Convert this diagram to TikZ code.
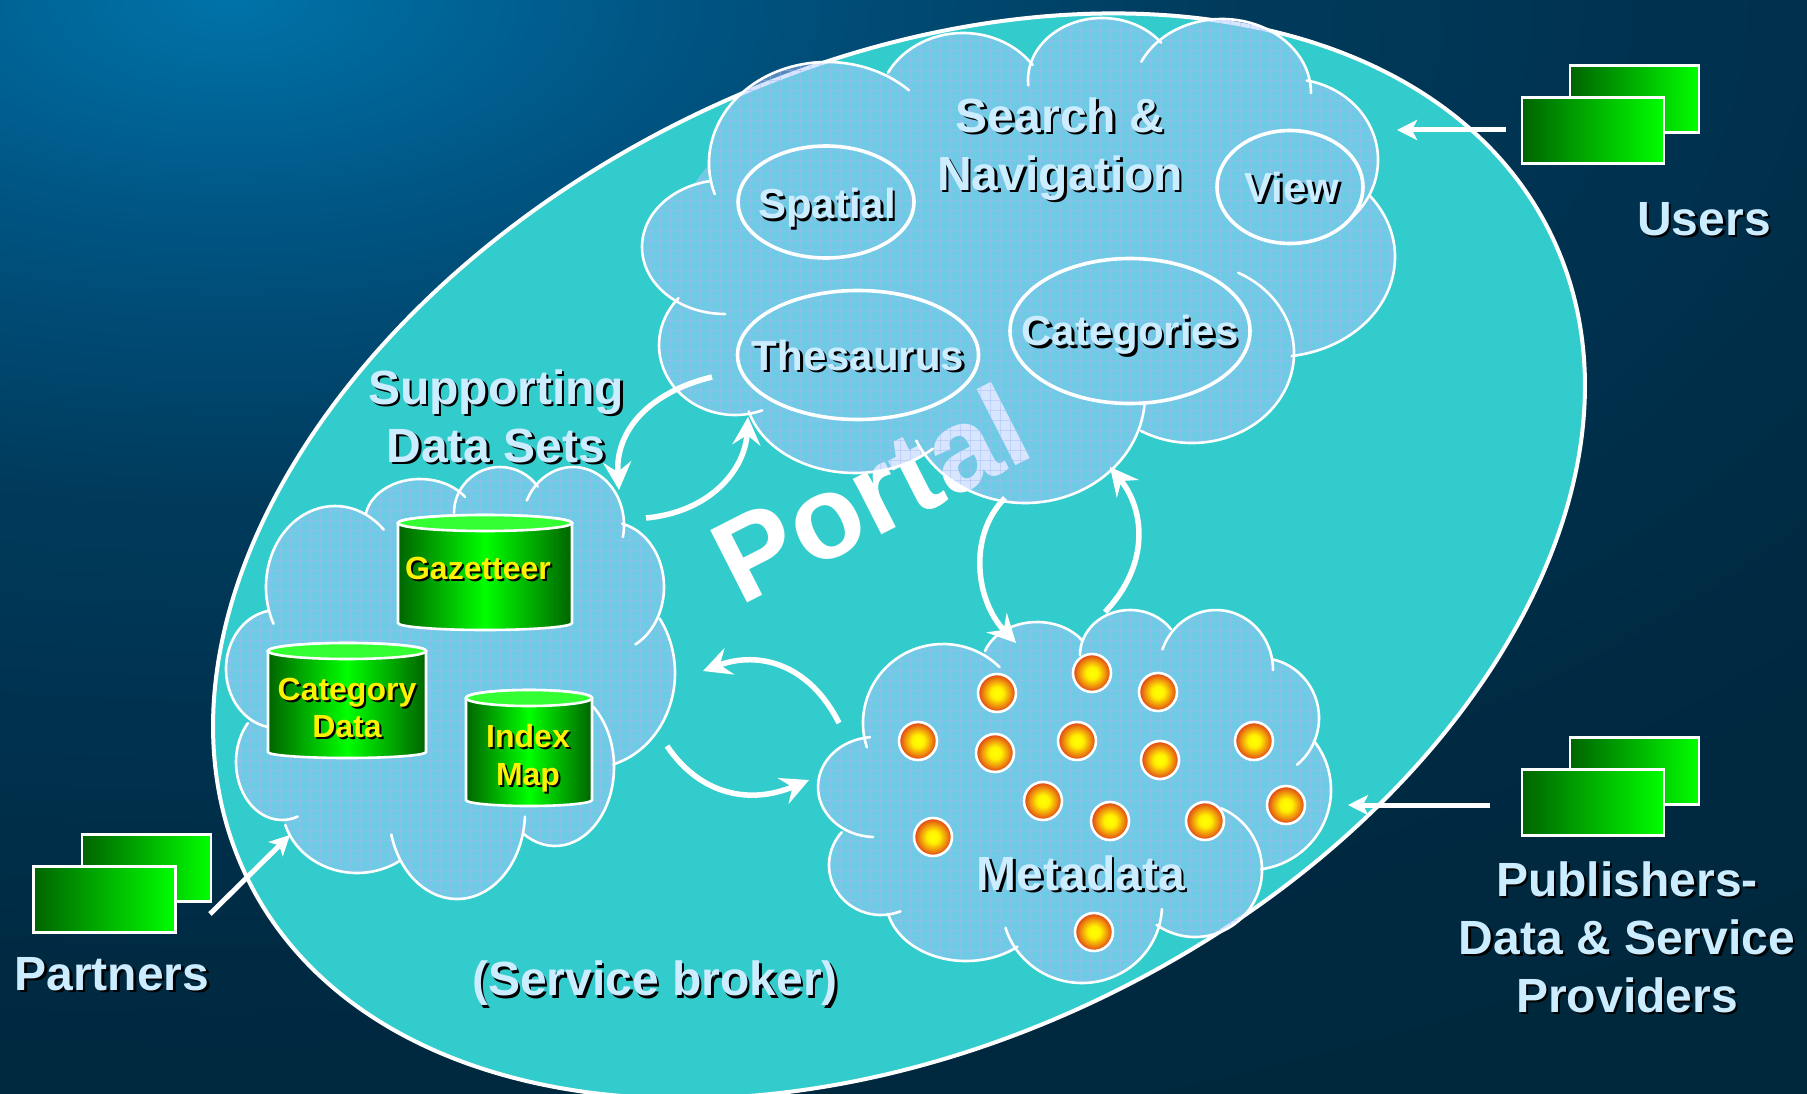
\documentclass[tikz,border=0pt]{standalone}
\usepackage{fontspec}
\setmainfont{Liberation Sans}
\usetikzlibrary{arrows.meta,shapes.geometric,calc}
\definecolor{teal}{RGB}{51,204,204}
\definecolor{cloudc}{RGB}{173,202,255}
\definecolor{gridc}{RGB}{165,185,245}
\definecolor{lblue}{RGB}{204,236,255}
\definecolor{dkgreen}{RGB}{0,100,0}
\definecolor{brgreen}{RGB}{0,255,0}
\definecolor{topgreen}{RGB}{51,255,51}
\pgfdeclareradialshading{bgshade}{\pgfpoint{0bp}{0bp}}{%
 rgb(0bp)=(0,0.45,0.66);
 rgb(3.8bp)=(0,0.33,0.51);
 rgb(8.3bp)=(0,0.23,0.36);
 rgb(12bp)=(0,0.195,0.31);
 rgb(16bp)=(0,0.165,0.26);
 rgb(20bp)=(0,0.155,0.24);
 rgb(50bp)=(0,0.155,0.24)}
\pgfdeclareradialshading{dotshade}{\pgfpoint{0bp}{0bp}}{%
 rgb(0bp)=(1,1,0);
 rgb(8bp)=(1,0.95,0);
 rgb(17bp)=(0.94,0.58,0.05);
 rgb(25bp)=(0.87,0.24,0.08);
 rgb(50bp)=(0.87,0.24,0.08)}
\tikzset{
 cloudline/.style={draw=white,line width=2.6pt,line cap=round},
 innerell/.style={ellipse,draw=white,line width=3.6pt,inner sep=0pt,outer sep=0pt},
 lbl/.style={font=\bfseries\fontsize{48}{58}\selectfont,text=lblue,align=center,inner sep=0pt},
 slbl/.style={font=\bfseries\fontsize{42}{50}\selectfont,text=lblue,align=center,inner sep=0pt},
 dblbl/.style={font=\bfseries\fontsize{32}{37.5}\selectfont,text=yellow,align=center,inner sep=0pt},
 flow/.style={draw=white,line width=5.5pt,-{Stealth[length=28pt,width=28pt,inset=10pt]}},
 feed/.style={draw=white,line width=5pt,-{Stealth[length=20pt,width=20pt,inset=5pt]}},
 actor/.style={rectangle,draw=white,line width=2.4pt,inner sep=0pt,outer sep=0pt,left color=dkgreen,right color=brgreen},
 backactor/.style={actor,minimum width=129pt,minimum height=67pt},
 frontactor/.style={actor,minimum width=142pt,minimum height=66pt},
 dotnode/.style={circle,draw=white,line width=2.6pt,minimum size=38pt,inner sep=0pt,outer sep=0pt,shading=dotshade},
}
\newcommand\shadowlabel[5][2.6]{%
 \node[#2,text=black] at ([shift={(#1,#1)}]#4) {#5};
 \node[#2] (#3) at (#4) {#5};}
\newcommand\cloudbody[6]{%
 \coordinate (#1) at (#2,#3);
 \begin{scope}
  \clip (#2,#3) circle[x radius=#4,y radius=#5]
   \foreach \ca/\cb/\ra/\rb/\sa/\ea in {#6} { (\ca,\cb) circle[x radius=\ra,y radius=\rb] };
  \fill[cloudc,opacity=.485] (0,0) rectangle (1807,1094);
  \foreach \gx in {0,10,...,1800} \draw[gridc,line width=.6pt,opacity=.45] (\gx,0) -- (\gx,1094);
  \foreach \gy in {0,10,...,1090} \draw[gridc,line width=.6pt,opacity=.45] (0,\gy) -- (1807,\gy);
 \end{scope}
 \foreach \ca/\cb/\ra/\rb/\sa/\ea in {#6} {
  \draw[cloudline] ({\ca+\ra*cos(\sa)},{\cb+\rb*sin(\sa)}) arc[start angle=\sa,end angle=\ea,x radius=\ra,y radius=\rb];
 }}
% #1 left #2 right #3 top centre y #4 bottom corner y #5 top ry #6 bottom ry
\newcommand\barrel[6]{%
 \path[draw=white,line width=2.6pt,left color=dkgreen,right color=dkgreen,middle color=brgreen]
  (#1,#3) -- (#1,#4) arc[start angle=180,end angle=0,x radius={(#2-#1)/2},y radius=#6] -- (#2,#3)
  arc[start angle=0,end angle=-180,x radius={(#2-#1)/2},y radius=#5] -- cycle;
 \path[draw=white,line width=2.6pt,fill=topgreen] ({(#1+#2)/2},#3) circle[x radius={(#2-#1)/2},y radius=#5];}
\begin{document}
\begin{tikzpicture}[x=1pt,y=-1pt]
\useasboundingbox (0,0) rectangle (1807,1094);
\clip (0,0) rectangle (1807,1094);
\shade[shading=bgshade] (230,0) circle[x radius=3000,y radius=1500];
\node[ellipse,fill=teal,draw=white,line width=4pt,minimum width=1454pt,minimum height=972pt,inner sep=0pt,outer sep=0pt,rotate=26.5] (broker) at (899,556) {};
\node[font=\bfseries\fontsize{118}{118}\selectfont,text=white,rotate=27,inner sep=0pt] (portal) at (870,493) {Portal};

\cloudbody{searchcloud}{960}{260}{290}{190}{
 827/163/118/101/162/314,
 963/108/85/75/208/325,
 1102/80/74/62/175/323,
 1222/93/89/74/205/360,
 1290/160/88/81/281/411,
 1275/257/120/100/-38/82,
 1192/353/102/90/-63/120,
 1025/395/120/108/5/155,
 855/390/110/83/45/165,
 735/345/76/70/69/222,
 725/247/83/67/90/260}
\cloudbody{datacloud}{425}{670}{170}{140}{
 335/587/69/81/153/315,
 420/521/55/42/190/325,
 500/513/46/46/180/325,
 573/525/51/58/205/372,
 610/587/54/65/-77/62,
 590/673/85/95/-35/74,
 555/767/59/79/-50/122,
 457/812/68/87/3/165,
 357/805/75/68/55/163,
 282/762/46/58/70/222,
 277/669/51/59/100/260}
\cloudbody{metacloud}{1080}{790}{220}{130}{
 943/723/80/79/162/315,
 1037/665/55/43/199/325,
 1130/655/50/45/180/325,
 1216/670/57/60/200/360,
 1260/718/59/60/-77/51,
 1250/790/81/80/-38/82,
 1195/870/67/67/-67/125,
 1082/905/80/78/3/163,
 966/900/80/61/50/167,
 881/865/52/50/68/221,
 875/787/57/50/92/265}

% inner ellipses
\node[innerell,minimum width=176pt,minimum height=112pt] (spatial) at (826,202) {};
\node[innerell,minimum width=146pt,minimum height=113pt] (view) at (1290,187) {};
\node[innerell,minimum width=241pt,minimum height=129pt] (thesaurus) at (858,355) {};
\node[innerell,minimum width=240pt,minimum height=145pt] (categories) at (1130,331) {};
\shadowlabel{slbl}{spatialtext}{827,208}{Spatial}
\shadowlabel{slbl}{viewtext}{1292,187}{View}
\shadowlabel{slbl}{thesaurustext}{858,355}{Thesaurus}
\shadowlabel{slbl}{categoriestext}{1130,335}{Categories}

% barrels
\barrel{398}{572}{523}{623}{8}{7}
\barrel{268}{426}{651}{752}{8}{6}
\barrel{466}{592}{698}{800}{8}{6}
\shadowlabel[2]{dblbl}{gaz}{478,568}{Gazetteer}
\shadowlabel[2]{dblbl}{catdata}{347,708}{Category\\Data}
\shadowlabel[2]{dblbl}{indexmap}{528,758}{Index\\Map}

% dots
\foreach \dx/\dy [count=\di] in {997/693,1092/673,1158/692,918/741,995/753,1077/741,1160/760,1254/741,1043/801,1110/821,1205/821,1286/805,933/837,1094/932}
 \node[dotnode] (dot\di) at (\dx,\dy) {};

% labels
\shadowlabel{lbl}{searchtext}{1060,149}{Search \&\\Navigation}
\shadowlabel{lbl}{supporttext}{496,416}{Supporting\\Data Sets}
\shadowlabel{lbl}{metatext}{1081,873}{Metadata}
\shadowlabel{lbl}{brokertext}{655,983}{(Service broker)}
\shadowlabel{lbl}{userstext}{1704,219}{Users}
\shadowlabel{lbl}{partnerstext}{112,974}{Partners}
\shadowlabel{lbl}{pubtext}{1627,937}{Publishers-\\Data \& Service\\Providers}

% actors
\node[backactor] (usersback) at (1634.5,99) {};
\node[frontactor] (usersfront) at (1593,130.5) {};
\node[backactor] (pubback) at (1634.5,771) {};
\node[frontactor] (pubfront) at (1593,802.5) {};
\node[backactor] (partback) at (146.5,868) {};
\node[frontactor] (partfront) at (104.5,899.5) {};

% connector ends
\coordinate (ua) at (1506,130); \coordinate (ub) at (1397,130);
\coordinate (pa) at (1490,805); \coordinate (pb) at (1348,805);
\coordinate (ra) at (210,914); \coordinate (rb) at (290,835);
\draw[feed] (ua) -- (ub);
\draw[feed] (pa) -- (pb);
\draw[feed] (ra) -- (rb);
\coordinate (a1) at (712,377); \coordinate (a2) at (619,490);
\coordinate (b1) at (646,518); \coordinate (b2) at (748,417);
\coordinate (c1) at (1005,498); \coordinate (c2) at (1016,643);
\coordinate (d1) at (1105,612); \coordinate (d2) at (1110,467);
\coordinate (e1) at (839,723); \coordinate (e2) at (703,671);
\coordinate (f1) at (667,746); \coordinate (f2) at (809,780);
\draw[flow] (a1) .. controls (650,392) and (615,430) .. (a2);
\draw[flow] (b1) .. controls (710,512) and (745,470) .. (b2);
\draw[flow] (c1) .. controls (968,535) and (975,600) .. (c2);
\draw[flow] (d1) .. controls (1150,565) and (1145,510) .. (d2);
\draw[flow] (e1) .. controls (810,665) and (760,650) .. (e2);
\draw[flow] (f1) .. controls (700,795) and (750,805) .. (f2);
\end{tikzpicture}
\end{document}
